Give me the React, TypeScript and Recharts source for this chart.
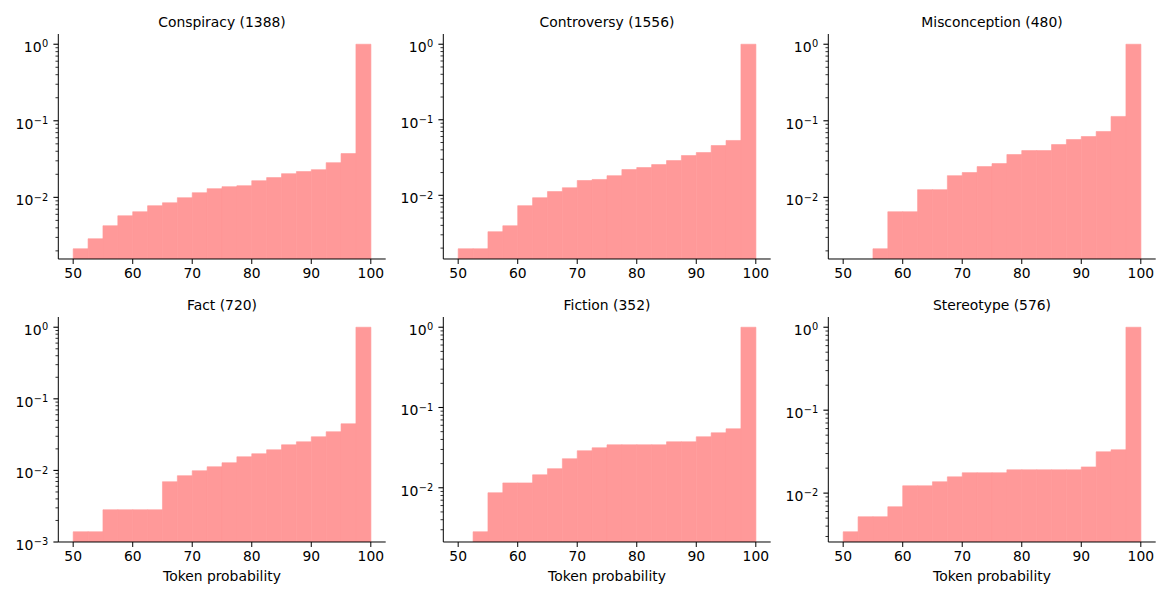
import React from "react";
import { Bar, BarChart, XAxis, YAxis } from "recharts";

// bin centres, 2.5 wide, from 50 to 100
const binCenters = [
  51.25, 53.75, 56.25, 58.75, 61.25, 63.75, 66.25, 68.75, 71.25, 73.75,
  76.25, 78.75, 81.25, 83.75, 86.25, 88.75, 91.25, 93.75, 96.25, 98.75,
];

const xTicks = [50, 60, 70, 80, 90, 100];

const conspiracy = [
  0.00213, 0.00288, 0.00426, 0.00575, 0.00649, 0.00778, 0.0085, 0.0099, 0.0115, 0.013,
  0.0138, 0.0142, 0.0165, 0.0181, 0.0204, 0.0217, 0.023, 0.0284, 0.0373, 1,
];
const controversy = [
  0.00196, 0.00196, 0.0033, 0.00395, 0.0073, 0.0093, 0.0112, 0.0126, 0.0157, 0.0162,
  0.0182, 0.0219, 0.0233, 0.0255, 0.0288, 0.0336, 0.0368, 0.0456, 0.0532, 1,
];
const misconception = [
  null, null, 0.00213, 0.00649, 0.00649, 0.0126, 0.0126, 0.0192, 0.0211, 0.0252,
  0.0276, 0.0362, 0.0408, 0.0408, 0.0489, 0.0569, 0.0623, 0.0725, 0.114, 1,
];
const fact = [
  0.00139, 0.00139, 0.00282, 0.00282, 0.00282, 0.00282, 0.00695, 0.00844, 0.0099, 0.01125,
  0.0128, 0.0155, 0.0171, 0.0194, 0.0228, 0.0251, 0.0295, 0.0347, 0.0448, 1,
];
const fiction = [
  null, 0.00283, 0.00867, 0.0115, 0.0115, 0.0145, 0.0173, 0.023, 0.0289, 0.0315,
  0.0343, 0.0343, 0.0343, 0.0343, 0.0374, 0.0374, 0.0432, 0.0484, 0.0543, 1,
];
const stereotype = [
  0.00342, 0.00519, 0.00519, 0.00685, 0.01225, 0.01225, 0.0137, 0.0157, 0.0176, 0.0176,
  0.0176, 0.0191, 0.0191, 0.0191, 0.0191, 0.0191, 0.0207, 0.0315, 0.0333, 1,
];

const panels = [
  { title: "Conspiracy (1388)", values: conspiracy },
  { title: "Controversy (1556)", values: controversy },
  { title: "Misconception (480)", values: misconception },
  { title: "Fact (720)", values: fact },
  { title: "Fiction (352)", values: fiction },
  { title: "Stereotype (576)", values: stereotype },
];

const FONT = "'DejaVu Sans', sans-serif";
const BAR = "#ff9999";
const plotLefts = [58.3, 443.3, 828.3];
const plotTops = [34, 317];
const plotW = 327.4;
const plotH = 225;
const yAxisW = 58.3;
const SUP = 9.8;

// matplotlib-style log autoscale: 5% margin in log space
function logDomain(values: (number | null)[]): [number, number] {
  const pos = values.filter((v): v is number => v != null && v > 0);
  const lo = Math.log10(Math.min(...pos));
  const hi = Math.log10(Math.max(...pos));
  const pad = (hi - lo) * 0.05;
  return [10 ** (lo - pad), 10 ** (hi + pad)];
}

function logTicks([lo, hi]: [number, number]) {
  const out: number[] = [];
  for (let k = Math.floor(Math.log10(lo)); k <= Math.ceil(Math.log10(hi)); k++) {
    for (let m = 1; m <= 9; m++) {
      const v = m * 10 ** k;
      if (v >= lo * 0.995 && v <= hi * 1.005) out.push(v);
    }
  }
  return out;
}

function LogTick(props: any) {
  const { y, payload } = props;
  const sx = yAxisW; // spine position inside this chart's svg
  const e = Math.log10(payload.value);
  const major = Math.abs(e - Math.round(e)) < 1e-6;
  const exp = Math.round(e);
  const expText = exp < 0 ? `\u2212${-exp}` : `${exp}`;
  // DejaVu advance widths: digit 0.636em, minus 0.838em
  const expW = (exp < 0 ? 0.838 + 0.636 * String(-exp).length : 0.636 * String(exp).length) * SUP;
  const expX = sx - 10.5 - expW;
  return (
    <g>
      <line x1={sx} x2={sx - (major ? 4.9 : 2.8)} y1={y} y2={y} stroke="#000" strokeWidth={major ? 1.1 : 0.8} />
      {major && (
        <>
          <text x={expX} y={y + 8} textAnchor="end" fontSize={14} fill="#000" fontFamily={FONT}>
            10
          </text>
          <text x={expX + 0.5} y={y + 3.2} textAnchor="start" fontSize={SUP} fill="#000" fontFamily={FONT}>
            {expText}
          </text>
        </>
      )}
    </g>
  );
}

function Panel({ title, values, row, col }: { title: string; values: (number | null)[]; row: number; col: number }) {
  const data = binCenters.map((x, i) => ({ x, value: values[i] }));
  const domain = logDomain(values);
  const left = plotLefts[col] - yAxisW;
  const top = plotTops[row] - 30;
  return (
    <>
      <div
        style={{
          position: "absolute",
          left: plotLefts[col],
          top: plotTops[row] - 20,
          width: plotW,
          textAlign: "center",
          fontSize: 13.9,
          lineHeight: "16px",
          color: "#000",
        }}
      >
        {title}
      </div>
      <div style={{ position: "absolute", left, top }}>
        <BarChart
          width={yAxisW + plotW + 4}
          height={30 + plotH + 50}
          data={data}
          margin={{ top: 30, right: 4, bottom: 0, left: 0 }}
          barCategoryGap={0}
          barGap={0}
        >
          <XAxis
            dataKey="x"
            type="number"
            domain={[47.5, 102.5]}
            allowDataOverflow
            ticks={xTicks}
            height={50}
            stroke="#000"
            tickSize={5}
            tickMargin={4}
            tick={{ fill: "#000", fontSize: 13.9, fontFamily: FONT }}
            label={
              row === 1
                ? { value: "Token probability", position: "insideBottom", offset: 11, fill: "#000", fontSize: 13.9, fontFamily: FONT }
                : undefined
            }
          />
          <YAxis
            type="number"
            scale="log"
            domain={domain}
            allowDataOverflow
            ticks={logTicks(domain)}
            width={yAxisW}
            stroke="#000"
            tickLine={false}
            tickSize={0}
            tickMargin={0}
            tick={<LogTick />}
            interval={0}
          />
          <Bar dataKey="value" fill={BAR} stroke={BAR} strokeWidth={0.6} isAnimationActive={false} />
        </BarChart>
      </div>
    </>
  );
}

export default function App() {
  return (
    <div
      style={{
        position: "absolute",
        left: 0,
        top: 0,
        width: 1170,
        height: 600,
        background: "#fff",
        fontFamily: FONT,
      }}
    >
      {panels.map((p, i) => (
        <Panel key={p.title} title={p.title} values={p.values} row={Math.floor(i / 3)} col={i % 3} />
      ))}
    </div>
  );
}
